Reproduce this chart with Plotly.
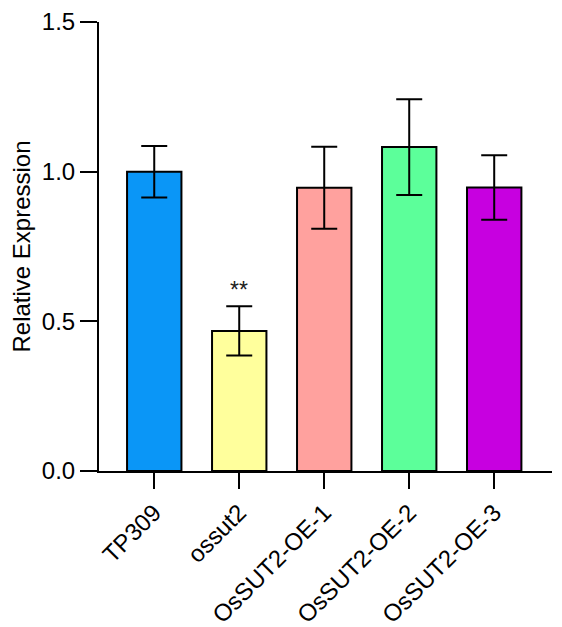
import plotly.graph_objects as go

# datos
lineas = ['TP309', 'ossut2', 'OsSUT2-OE-1', 'OsSUT2-OE-2', 'OsSUT2-OE-3']
expresion = [1.0, 0.468, 0.946, 1.082, 0.947]
error = [0.086, 0.082, 0.137, 0.160, 0.108]
colores = ['#0A96F7', '#FFFF9C', '#FFA19E', '#5CFF9A', '#C700E0']
signif = ['', '**', '', '', '']

fuente = 'Liberation Sans, Arial, sans-serif'

fig = go.Figure()

fig.add_trace(go.Bar(
    x=lineas,
    y=expresion,
    width=0.64,
    marker=dict(color=colores, line=dict(color='black', width=2)),
    error_y=dict(type='data', array=error, visible=True,
                 color='black', thickness=2, width=13),
    showlegend=False
))

for lin, val, err, s in zip(lineas, expresion, error, signif):
    if s:
        fig.add_annotation(x=lin, y=val + err, text=s, showarrow=False,
                           yanchor='bottom', yshift=1,
                           font=dict(family=fuente, size=23, color='#222'))

fig.update_xaxes(
    range=[-0.65, 4.68],
    showline=True, linecolor='black', linewidth=2,
    ticks='outside', ticklen=16, tickwidth=2, tickcolor='black',
    tickangle=-45,
    tickfont=dict(family=fuente, size=24, color='black'),
    ticklabeloverflow='allow',
    automargin=False,
    showgrid=False, zeroline=False
)

fig.update_yaxes(
    range=[0, 1.5],
    tickvals=[0.0, 0.5, 1.0, 1.5],
    tickformat='.1f',
    showline=True, linecolor='black', linewidth=2,
    ticks='outside', ticklen=17, tickwidth=2, tickcolor='black',
    tickfont=dict(family=fuente, size=24, color='black'),
    ticklabeloverflow='allow',
    automargin=False,
    title=dict(text='Relative Expression', standoff=12,
               font=dict(family=fuente, size=24, color='black')),
    showgrid=False, zeroline=False
)

# la pagina tiene 8px de margen en el body: se compensa aqui
fig.update_layout(
    width=554,
    height=619,
    margin=dict(l=91, r=10, t=14, b=156),
    plot_bgcolor='white',
    paper_bgcolor='white',
    bargap=0.36
)

fig.write_html("out.html")
